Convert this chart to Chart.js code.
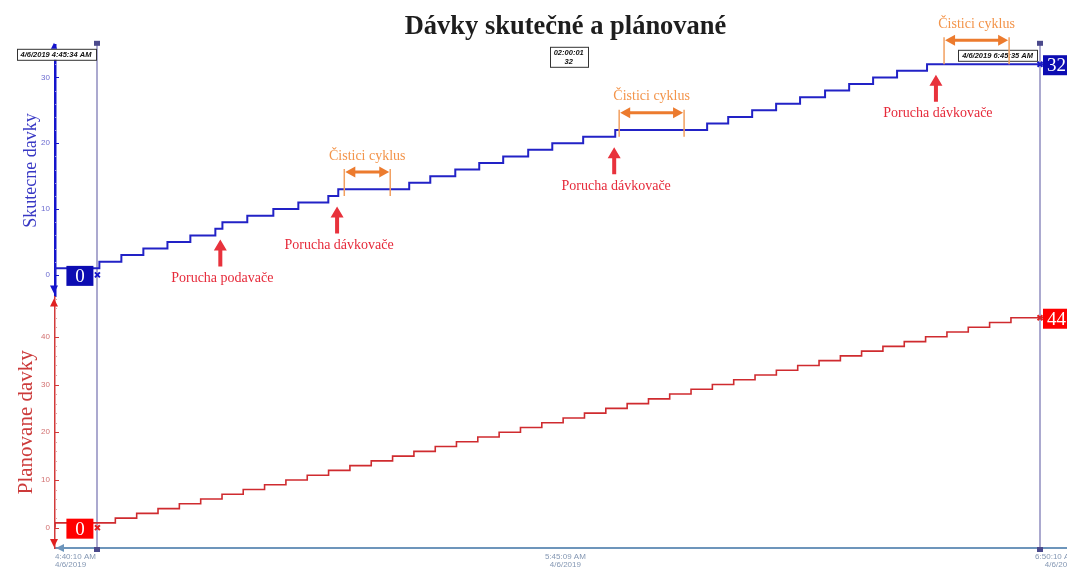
<!DOCTYPE html>
<html>
<head>
<meta charset="utf-8">
<title>Dávky skutečné a plánované</title>
<script src="https://cdn.jsdelivr.net/npm/chart.js@4.4.1/dist/chart.umd.min.js"></script>
<style>
  html, body { margin: 0; padding: 0; background: #fff; overflow: hidden; }
  canvas { display: block; }
</style>
</head>
<body>
<!-- the time axis runs a few pixels past the right window edge -->
<canvas id="batchChart" width="1076" height="569"></canvas>
<script>
const chartTitle = 'Dávky skutečné a plánované';
const dateLabel = '4/6/2019';

// time axis (h:mm:ss)
const axisRange = ['4:40:10', '6:50:10'];
const xTicks = ['4:40:10', '5:45:09', '6:50:10'];
const xTickLabels = ['4:40:10 AM', '5:45:09 AM', '6:50:10 AM'];

// y axis ticks
const actualTicks = [0, 10, 20, 30];
const plannedTicks = [0, 10, 20, 30, 40];

// skutecne davky - time of each batch count change
const actualTimes = ['4:40:10', '4:45:49', '4:48:37', '4:51:25', '4:54:29', '4:57:24', '5:00:35', '5:01:29',
  '5:04:39', '5:07:58', '5:11:09', '5:14:58', '5:16:14', '5:25:16', '5:27:57', '5:31:08', '5:34:11',
  '5:37:14', '5:40:25', '5:43:29', '5:47:25', '5:51:30', '6:03:12', '6:05:53', '6:08:56', '6:11:59',
  '6:15:02', '6:18:13', '6:21:17', '6:24:20', '6:27:23', '6:31:12', '6:32:28', '6:50:10'];
const actualBatches = [0, 1, 2, 3, 4, 5, 6, 7, 8, 9, 10, 11, 12, 13, 14, 15, 16, 17, 18, 19, 20, 21,
  22, 23, 24, 25, 26, 27, 28, 29, 30, 31, 32, 32];

// planovane davky
const plannedTimes = ['4:40:10', '4:47:51', '4:50:34', '4:53:17', '4:56:00', '4:58:43', '5:01:26', '5:04:08',
  '5:06:51', '5:09:34', '5:12:17', '5:15:00', '5:17:43', '5:20:26', '5:23:09', '5:25:52', '5:28:35',
  '5:31:17', '5:34:00', '5:36:43', '5:39:26', '5:42:09', '5:44:52', '5:47:35', '5:50:18', '5:53:01',
  '5:55:44', '5:58:26', '6:01:09', '6:03:52', '6:06:35', '6:09:18', '6:12:01', '6:14:44', '6:17:27',
  '6:20:10', '6:22:52', '6:25:35', '6:28:18', '6:31:01', '6:33:44', '6:36:27', '6:39:10', '6:41:53',
  '6:44:36', '6:50:10'];
const plannedBatches = [0, 1, 2, 3, 4, 5, 6, 7, 8, 9, 10, 11, 12, 13, 14, 15, 16, 17, 18, 19, 20, 21,
  22, 23, 24, 25, 26, 27, 28, 29, 30, 31, 32, 33, 34, 35, 36, 37, 38, 39, 40, 41, 42, 43, 44, 44];

// cursors
const cursorTimes = ['4:45:34', '6:45:35'];

// poruchy a cisticí cykly
const faultTimes = ['5:01:13', '5:16:05', '5:51:22', '6:32:20'];
const faultLabels = ['Porucha podavače', 'Porucha dávkovače', 'Porucha dávkovače', 'Porucha dávkovače'];
const cleanStart = ['5:17:00', '5:52:00', '6:33:22'];
const cleanEnd = ['5:22:51', '6:00:16', '6:41:39'];
const cleanLabel = 'Čistici cyklus';

const SERIF = "'Liberation Serif', 'DejaVu Serif', serif";
const SANS = "'Liberation Sans', 'DejaVu Sans', sans-serif";
const BLUE = '#2222c6';
const RED = '#cf2b2f';

function sec(s) {
  const [h, m, x] = s.split(':').map(Number);
  return h * 3600 + m * 60 + x;
}

function hms(t) {
  const p = n => String(n).padStart(2, '0');
  return p(Math.floor(t / 3600)) + ':' + p(Math.floor(t / 60) % 60) + ':' + p(t % 60);
}

function valueAt(times, values, t) {
  let v = values[0];
  times.forEach((s, i) => { if (sec(s) <= t) v = values[i]; });
  return v;
}

function toPoints(times, values) {
  return times.map((s, i) => ({ x: sec(s), y: values[i] }));
}

function cursorPoints(times, values) {
  return cursorTimes.map(c => ({ x: sec(c), y: valueAt(times, values, sec(c)) }));
}

function tri(ctx, x1, y1, x2, y2, x3, y3) {
  ctx.beginPath();
  ctx.moveTo(x1, y1); ctx.lineTo(x2, y2); ctx.lineTo(x3, y3);
  ctx.closePath();
  ctx.fill();
}

function upArrow(ctx, px, tip, tail) {
  ctx.beginPath();
  ctx.moveTo(px, tip);
  ctx.lineTo(px + 6.5, tip + 11);
  ctx.lineTo(px + 2, tip + 11);
  ctx.lineTo(px + 2, tail);
  ctx.lineTo(px - 2, tail);
  ctx.lineTo(px - 2, tip + 11);
  ctx.lineTo(px - 6.5, tip + 11);
  ctx.closePath();
  ctx.fill();
}

function valueBox(ctx, text, px, py, side, color) {
  ctx.font = '19px ' + SERIF;
  const tw = ctx.measureText(text).width;
  const w = Math.max(27, tw + 14);
  const h = 20;
  const left = side === 'left' ? px - 4 - w : px + 3;
  ctx.fillStyle = color;
  ctx.fillRect(left, py - h / 2 + 1, w, h);
  ctx.fillStyle = '#fff';
  ctx.textAlign = 'left';
  ctx.textBaseline = 'middle';
  ctx.fillText(text, side === 'left' ? left + (w - tw) / 2 : left + 4, py + 2);
}

function textBox(ctx, lines, cx, top, align) {
  ctx.font = 'italic bold 7.5px ' + SANS;
  const w = Math.max(...lines.map(l => ctx.measureText(l).width)) + 8;
  const h = lines.length * 9 + 2;
  const left = align === 'right' ? cx - w : cx - w / 2;
  ctx.fillStyle = '#fff';
  ctx.fillRect(left, top, w, h);
  ctx.strokeStyle = '#333';
  ctx.lineWidth = 1;
  ctx.strokeRect(Math.round(left) + 0.5, top + 0.5, Math.round(w), h);
  ctx.fillStyle = '#111';
  ctx.textAlign = 'center';
  ctx.textBaseline = 'middle';
  lines.forEach((l, i) => ctx.fillText(l, left + w / 2, top + 6 + i * 9));
}

const decor = {
  id: 'decor',
  beforeDatasetsDraw(chart) {
    const { ctx, chartArea: a, scales: { x } } = chart;
    ctx.save();
    cursorTimes.forEach(c => {
      const px = Math.round(x.getPixelForValue(sec(c)));
      ctx.strokeStyle = '#aba9cf';
      ctx.lineWidth = 2;
      ctx.beginPath();
      ctx.moveTo(px, a.top - 2);
      ctx.lineTo(px, a.bottom);
      ctx.stroke();
      ctx.fillStyle = '#4b4a8c';
      ctx.fillRect(px - 3, a.top - 4, 6, 5);
      ctx.fillRect(px - 3, a.bottom - 1, 6, 5);
    });
    ctx.restore();
  },
  afterDraw(chart) {
    const { ctx, chartArea: a, scales: { x, ys, yp } } = chart;
    ctx.save();

    // minor / major ticks on both value axes
    [[ys, 34, '#1414cc', '#9b9be2'], [yp, 48, '#d23a3a', '#e6a0a0']].forEach(([s, top, major, minor]) => {
      for (let v = 0; v <= top; v += 2) {
        const py = Math.round(s.getPixelForValue(v)) + 0.5;
        ctx.strokeStyle = v % 10 === 0 ? major : minor;
        ctx.lineWidth = 1;
        ctx.beginPath();
        ctx.moveTo(a.left, py);
        ctx.lineTo(a.left + (v % 10 === 0 ? 4 : 2), py);
        ctx.stroke();
      }
    });

    // axis arrow heads
    const ax = a.left - 1;
    ctx.fillStyle = '#1414cc';
    tri(ctx, ax, ys.top - 2, ax - 4, ys.top + 6, ax + 4, ys.top + 6);
    tri(ctx, ax, ys.bottom - 3, ax - 4, ys.bottom - 11, ax + 4, ys.bottom - 11);
    ctx.fillStyle = '#e02020';
    tri(ctx, ax, yp.top + 2, ax - 4, yp.top + 10, ax + 4, yp.top + 10);
    tri(ctx, ax, yp.bottom - 1, ax - 4, yp.bottom - 9, ax + 4, yp.bottom - 9);
    ctx.fillStyle = '#6d95bb';
    tri(ctx, a.left + 1, a.bottom, a.left + 9, a.bottom - 4, a.left + 9, a.bottom + 4);

    // cursor read-outs
    const [c1, c2] = cursorTimes.map(sec);
    const p1 = x.getPixelForValue(c1);
    const p2 = x.getPixelForValue(c2);
    textBox(ctx, [dateLabel + ' ' + cursorTimes[0] + ' AM'], p1 - 2, a.top + 4, 'right');
    textBox(ctx, [dateLabel + ' ' + cursorTimes[1] + ' AM'], p2 - 3, a.top + 5, 'right');
    const diff = valueAt(actualTimes, actualBatches, c2) - valueAt(actualTimes, actualBatches, c1);
    textBox(ctx, [hms(c2 - c1), String(diff)], (p1 + p2) / 2, a.top + 2, 'center');

    [[actualTimes, actualBatches, ys, '#0c0cb2'], [plannedTimes, plannedBatches, yp, '#ff0000']].forEach(([t, v, s, col]) => {
      const v1 = valueAt(t, v, c1);
      const v2 = valueAt(t, v, c2);
      valueBox(ctx, String(v1), p1, s.getPixelForValue(v1), 'left', col);
      valueBox(ctx, String(v2), p2, s.getPixelForValue(v2), 'right', col);
    });

    // poruchy
    faultTimes.forEach((f, i) => {
      const t = sec(f);
      const px = x.getPixelForValue(t);
      const tip = ys.getPixelForValue(valueAt(actualTimes, actualBatches, t)) + 4;
      ctx.fillStyle = '#e8323c';
      upArrow(ctx, px, tip, tip + 27);
      ctx.font = '14px ' + SERIF;
      ctx.fillStyle = '#e62a3a';
      ctx.textAlign = 'center';
      ctx.textBaseline = 'middle';
      ctx.fillText(faultLabels[i], px + 2, tip + 39);
    });

    // cisticí cykly
    cleanStart.forEach((cs, i) => {
      const x0 = x.getPixelForValue(sec(cs));
      const x1 = x.getPixelForValue(sec(cleanEnd[i]));
      const ly = ys.getPixelForValue(valueAt(actualTimes, actualBatches, sec(cs)));
      ctx.strokeStyle = '#f2a060';
      ctx.lineWidth = 1.5;
      ctx.beginPath();
      ctx.moveTo(x0, ly); ctx.lineTo(x0, ly - 27);
      ctx.moveTo(x1, ly); ctx.lineTo(x1, ly - 27);
      ctx.stroke();
      const ay = ly - 24;
      ctx.strokeStyle = '#ec7b2e';
      ctx.lineWidth = 3;
      ctx.beginPath();
      ctx.moveTo(x0 + 6, ay); ctx.lineTo(x1 - 6, ay);
      ctx.stroke();
      ctx.fillStyle = '#ec7b2e';
      tri(ctx, x0 + 1, ay, x0 + 11, ay - 5.5, x0 + 11, ay + 5.5);
      tri(ctx, x1 - 1, ay, x1 - 11, ay - 5.5, x1 - 11, ay + 5.5);
      ctx.font = '14px ' + SERIF;
      ctx.fillStyle = '#f3944a';
      ctx.textAlign = 'center';
      ctx.textBaseline = 'middle';
      ctx.fillText(cleanLabel, (x0 + x1) / 2, ly - 40);
    });

    ctx.restore();
  }
};

const tickFont = { family: SANS, size: 8, lineHeight: 1.1 };

new Chart(document.getElementById('batchChart'), {
  type: 'line',
  data: {
    datasets: [
      {
        label: 'Skutecne davky',
        data: toPoints(actualTimes, actualBatches),
        yAxisID: 'ys',
        stepped: 'after',
        borderColor: BLUE,
        borderWidth: 2,
        pointRadius: 0
      },
      {
        label: 'Planovane davky',
        data: toPoints(plannedTimes, plannedBatches),
        yAxisID: 'yp',
        stepped: 'after',
        borderColor: RED,
        borderWidth: 1.6,
        pointRadius: 0
      },
      {
        data: cursorPoints(actualTimes, actualBatches),
        yAxisID: 'ys',
        showLine: false,
        pointStyle: 'crossRot',
        pointRadius: 3.5,
        borderColor: '#1414cc',
        pointBorderWidth: 2
      },
      {
        data: cursorPoints(plannedTimes, plannedBatches),
        yAxisID: 'yp',
        showLine: false,
        pointStyle: 'crossRot',
        pointRadius: 3.5,
        borderColor: '#e02020',
        pointBorderWidth: 2
      }
    ]
  },
  options: {
    responsive: false,
    animation: false,
    devicePixelRatio: 1,
    layout: { autoPadding: false, padding: 0 },
    plugins: {
      legend: { display: false },
      tooltip: { enabled: false },
      title: {
        display: true,
        text: chartTitle,
        fullSize: false,
        color: '#1e1e1e',
        font: { family: SERIF, size: 26.5, weight: 'bold', lineHeight: 1.2 },
        padding: { top: 11, bottom: 2 }
      }
    },
    scales: {
      x: {
        type: 'linear',
        min: sec(axisRange[0]),
        max: sec(axisRange[1]),
        afterBuildTicks: s => { s.ticks = xTicks.map(t => ({ value: sec(t) })); },
        afterFit: s => { s.height = 21; s.paddingLeft = 0; s.paddingRight = 0; },
        grid: { display: false, drawTicks: false },
        border: { color: '#6d95bb', width: 2 },
        ticks: {
          align: 'inner',
          autoSkip: false,
          maxRotation: 0,
          padding: 4,
          color: '#8497b3',
          font: tickFont,
          callback: (v, i) => [xTickLabels[i], dateLabel]
        }
      },
      ys: {
        type: 'linear',
        position: 'left',
        stack: 'davky',
        stackWeight: 1,
        weight: 1,
        min: -3.27,
        max: 34.95,
        afterBuildTicks: s => { s.ticks = actualTicks.map(v => ({ value: v })); },
        afterFit: s => { s.width = 55; s.paddingTop = 0; s.paddingBottom = 0; },
        grid: { display: false, drawTicks: false },
        border: { color: '#1414cc', width: 2.5 },
        ticks: { padding: 5, color: '#6c6cd0', font: tickFont },
        title: {
          display: true,
          text: 'Skutecne davky',
          color: '#3838c4',
          font: { family: SERIF, size: 18, lineHeight: 1.2 },
          padding: { top: 20, bottom: 0 }
        }
      },
      yp: {
        type: 'linear',
        position: 'left',
        stack: 'davky',
        stackWeight: 1,
        weight: 0,
        min: -4.26,
        max: 48.47,
        afterBuildTicks: s => { s.ticks = plannedTicks.map(v => ({ value: v })); },
        afterFit: s => { s.width = 55; s.paddingTop = 0; s.paddingBottom = 0; },
        grid: { display: false, drawTicks: false },
        border: { color: '#d23a3a', width: 1.5 },
        ticks: { padding: 5, color: '#d27070', font: tickFont },
        title: {
          display: true,
          text: 'Planovane davky',
          color: '#cc3a3a',
          font: { family: SERIF, size: 21, lineHeight: 1.2 },
          padding: { top: 14, bottom: 0 }
        }
      }
    }
  },
  plugins: [decor]
});
</script>
</body>
</html>
